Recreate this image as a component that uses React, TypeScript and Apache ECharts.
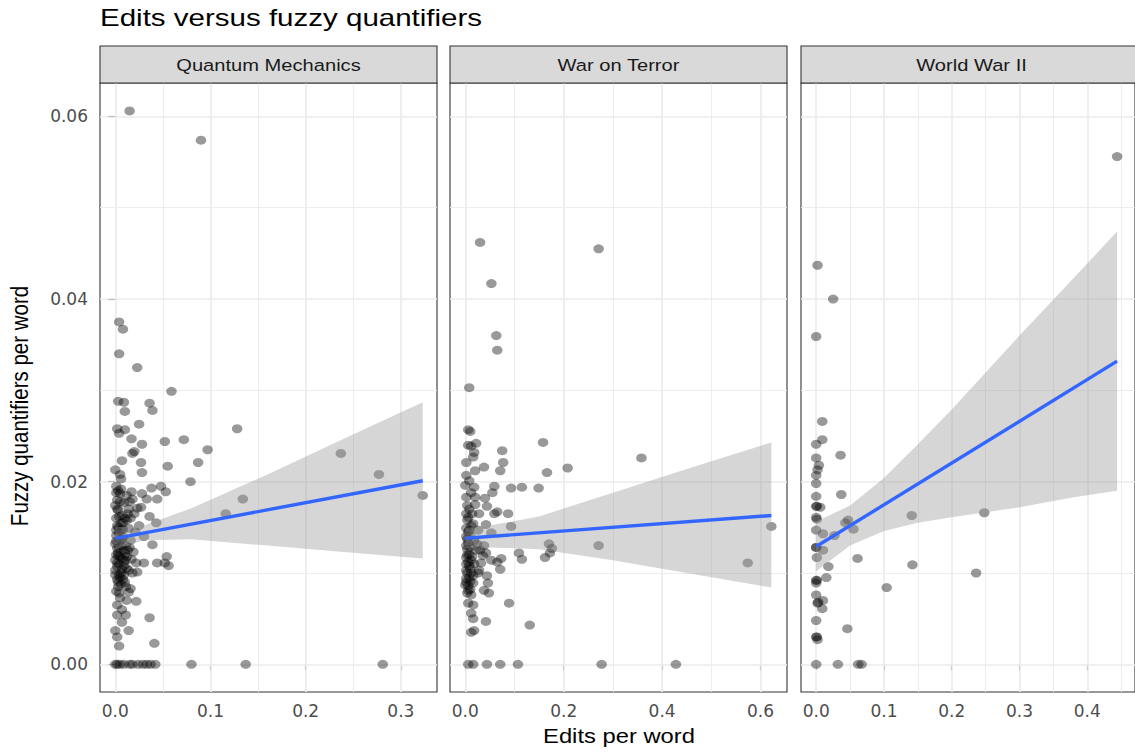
import React, { useEffect, useRef } from "react";
import * as echarts from "echarts";

const chartTitle = "Edits versus fuzzy quantifiers";
const xTitle = "Edits per word";
const yTitle = "Fuzzy quantifiers per word";
const panelNames = ["Quantum Mechanics", "War on Terror", "World War II"];

const yTicks = [0, 0.02, 0.04, 0.06];
const yMinor = [0.01, 0.03, 0.05];
const yRange = [-0.00303, 0.06366];

const qmXTicks = [0, 0.1, 0.2, 0.3];
const qmXMinor = [0.05, 0.15, 0.25];
const wotXTicks = [0, 0.2, 0.4, 0.6];
const wotXMinor = [0.1, 0.3, 0.5];
const wwXTicks = [0, 0.1, 0.2, 0.3, 0.4];
const wwXMinor = [0.05, 0.15, 0.25, 0.35, 0.45];
const xRanges = [[-0.0161, 0.338], [-0.0311, 0.6538], [-0.0224, 0.4704]];

const qmPoints = [
  [0.015,0.0606],[0.090,0.0574],[0.004,0.0375],[0.008,0.0367],[0.004,0.0340],[0.023,0.0325],[0.059,0.0299],
  [0.003,0.0288],[0.009,0.0287],[0.010,0.0277],[0.036,0.0286],[0.039,0.0278],[0.025,0.0263],[0.002,0.0258],
  [0.010,0.0257],[0.004,0.0253],[0.017,0.0247],[0.052,0.0244],[0.072,0.0246],[0.128,0.0258],[0.097,0.0235],
  [0.028,0.0241],[0.020,0.0233],[0.018,0.0231],[0.007,0.0223],[0.027,0.0221],[0.055,0.0217],[0.087,0.0221],
  [0.028,0.0210],[0.000,0.0213],[0.005,0.0208],[0.006,0.0203],[0.079,0.0200],[0.048,0.0195],[0.053,0.0189],
  [0.038,0.0193],[0.017,0.0189],[0.018,0.0181],[0.028,0.0187],[0.033,0.0181],[0.044,0.0181],[0.001,0.0188],
  [0.005,0.0187],[0.134,0.0181],[0.116,0.0165],[0.036,0.0162],[0.043,0.0155],[0.023,0.0171],[0.027,0.0172],
  [0.237,0.0231],[0.277,0.0208],[0.323,0.0185],
  [0.000,0.0174],[0.003,0.0169],[0.007,0.0163],[0.012,0.0158],[0.002,0.0152],[0.006,0.0147],[0.014,0.0149],
  [0.001,0.0141],[0.005,0.0136],[0.011,0.0130],[0.002,0.0127],[0.016,0.0136],[0.019,0.0123],[0.003,0.0119],
  [0.007,0.0116],[0.000,0.0114],[0.009,0.0177],[0.014,0.0170],[0.001,0.0160],[0.004,0.0144],[0.008,0.0140],
  [0.013,0.0125],[0.021,0.0145],[0.025,0.0152],[0.030,0.0140],[0.000,0.0132],[0.010,0.0121],[0.004,0.0110],
  [0.012,0.0105],[0.000,0.0098],[0.008,0.0093],[0.003,0.0085],
  [0.039,0.0131],[0.054,0.0118],[0.056,0.0108],[0.044,0.0111],[0.052,0.0111],[0.030,0.0111],[0.022,0.0111],
  [0.002,0.0111],[0.011,0.0114],[0.000,0.0103],[0.005,0.0095],[0.003,0.0090],[0.014,0.0103],[0.018,0.0100],
  [0.023,0.0101],[0.016,0.0083],[0.014,0.0079],[0.022,0.0069],[0.012,0.0070],[0.005,0.0073],[0.002,0.0065],
  [0.036,0.0051],[0.002,0.0054],[0.007,0.0046],[0.011,0.0054],[0.014,0.0037],[0.000,0.0037],[0.002,0.0030],
  [0.004,0.0020],[0.041,0.0023],
  [0.001,0.0195],[0.006,0.0192],[0.012,0.0185],[0.015,0.0178],[0.020,0.0165],[0.002,0.0180],[0.008,0.0155],
  [0.004,0.0128],[0.009,0.0108],[0.017,0.0115],[0.001,0.0120],[0.006,0.0100],[0.010,0.0090],[0.001,0.0080],
  [0.007,0.0060],
  [0.002,0.0170],[0.004,0.0162],[0.006,0.0155],[0.003,0.0150],[0.008,0.0148],[0.010,0.0160],[0.001,0.0135],
  [0.006,0.0130],[0.009,0.0125],[0.003,0.0122],[0.005,0.0118],[0.012,0.0118],[0.002,0.0107],[0.007,0.0104],
  [0.004,0.0098],[0.009,0.0098],[0.002,0.0093],[0.006,0.0088],[0.011,0.0085],[0.004,0.0078],[0.013,0.0165],
  [0.016,0.0160],[0.005,0.0178],[0.003,0.0190],[0.009,0.0113],[0.015,0.0128],[0.001,0.0147],[0.007,0.0137],
  [0.000,0],[0.002,0],[0.005,0],[0.009,0],[0.015,0],[0.018,0],[0.024,0],[0.029,0],[0.033,0],[0.037,0],
  [0.042,0],[0.080,0],[0.137,0],[0.281,0],
];

const wotPoints = [
  [0.030,0.0462],[0.053,0.0417],[0.063,0.0360],[0.065,0.0344],[0.271,0.0455],[0.008,0.0303],
  [0.006,0.0257],[0.010,0.0255],[0.022,0.0242],[0.006,0.0240],[0.012,0.0239],[0.018,0.0232],[0.016,0.0227],
  [0.002,0.0221],[0.020,0.0212],[0.038,0.0216],[0.075,0.0234],[0.077,0.0221],[0.071,0.0212],[0.158,0.0243],
  [0.166,0.0210],[0.208,0.0215],[0.002,0.0207],[0.008,0.0201],[0.018,0.0194],[0.059,0.0195],[0.055,0.0188],
  [0.093,0.0193],[0.115,0.0194],[0.149,0.0193],[0.002,0.0183],[0.020,0.0183],[0.040,0.0182],[0.044,0.0173],
  [0.020,0.0175],[0.002,0.0165],[0.006,0.0161],[0.028,0.0165],[0.016,0.0154],[0.065,0.0167],[0.059,0.0165],
  [0.087,0.0165],[0.093,0.0151],[0.042,0.0153],[0.002,0.0149],[0.008,0.0147],[0.026,0.0147],[0.053,0.0144],
  [0.170,0.0132],[0.176,0.0127],[0.162,0.0117],[0.172,0.0122],[0.271,0.0130],[0.109,0.0122],[0.115,0.0115],
  [0.073,0.0116],[0.065,0.0112],[0.071,0.0104],
  [0.002,0.0130],[0.022,0.0125],[0.042,0.0122],[0.012,0.0114],[0.032,0.0111],[0.053,0.0114],[0.002,0.0103],
  [0.016,0.0097],[0.028,0.0103],[0.044,0.0097],
  [0.012,0.0100],[0.026,0.0100],[0.002,0.0094],[0.016,0.0089],[0.006,0.0081],[0.012,0.0076],[0.046,0.0089],
  [0.048,0.0078],[0.038,0.0081],[0.006,0.0067],[0.016,0.0065],[0.089,0.0067],[0.012,0.0056],[0.016,0.0050],
  [0.042,0.0047],[0.131,0.0043],[0.012,0.0035],[0.018,0.0037],
  [0.358,0.0226],[0.622,0.0151],[0.574,0.0111],[0.036,0.0119],[0.038,0.0130],
  [0.004,0.0137],[0.010,0.0141],[0.018,0.0135],[0.004,0.0120],[0.008,0.0108],[0.000,0.0087],[0.010,0.0091],
  [0.004,0.0174],[0.012,0.0188],[0.000,0.0196],[0.024,0.0132],[0.030,0.0125],
  [0.002,0.0140],[0.006,0.0133],[0.010,0.0128],[0.004,0.0126],[0.008,0.0120],[0.002,0.0117],[0.006,0.0112],
  [0.010,0.0105],[0.002,0.0110],[0.004,0.0100],[0.008,0.0095],[0.002,0.0090],[0.006,0.0086],[0.010,0.0082],
  [0.004,0.0078],[0.014,0.0118],[0.018,0.0110],[0.006,0.0145],[0.012,0.0152],[0.004,0.0158],[0.008,0.0170],
  [0.014,0.0165],
  [0.006,0],[0.016,0],[0.044,0],[0.071,0],[0.107,0],[0.277,0],[0.428,0],
];

const wwPoints = [
  [0.002,0.0437],[0.025,0.0400],[0.000,0.0359],[0.009,0.0266],[0.009,0.0246],[0.000,0.0241],[0.036,0.0229],
  [0.000,0.0226],[0.004,0.0218],[0.002,0.0213],[0.000,0.0207],[0.000,0.0198],[0.037,0.0186],[0.000,0.0184],
  [0.000,0.0173],[0.006,0.0172],[0.001,0.0173],[0.000,0.0161],[0.001,0.0159],[0.000,0.0147],[0.010,0.0143],
  [0.027,0.0141],[0.047,0.0158],[0.043,0.0155],[0.055,0.0148],[0.141,0.0163],[0.000,0.0128],[0.000,0.0128],
  [0.010,0.0125],[0.001,0.0117],[0.061,0.0116],[0.018,0.0107],[0.142,0.0109],[0.015,0.0095],[0.000,0.0092],
  [0.001,0.0092],[0.000,0.0089],[0.104,0.0084],[0.000,0.0076],[0.010,0.0070],[0.002,0.0067],[0.003,0.0068],
  [0.009,0.0061],[0.000,0.0048],[0.046,0.0039],[0.000,0.0030],[0.001,0.0030],[0.002,0.0027],
  [0.000,0],[0.032,0],[0.062,0],[0.067,0],
  [0.444,0.0556],[0.248,0.0166],[0.236,0.0100],
];

// fitted lines (endpoints) and confidence bands
const qmLine = [[0, 0.0138], [0.323, 0.0201]];
const qmBandX = [0, 0.03, 0.08, 0.16, 0.24, 0.323];
const qmBandLo = [0.0126, 0.0136, 0.0137, 0.0130, 0.0123, 0.0116];
const qmBandHi = [0.0150, 0.0152, 0.0171, 0.0208, 0.0247, 0.0287];

const wotLine = [[0, 0.0138], [0.622, 0.0163]];
const wotBandX = [0, 0.05, 0.15, 0.3, 0.45, 0.622];
const wotBandLo = [0.0127, 0.0128, 0.0126, 0.0114, 0.0100, 0.0084];
const wotBandHi = [0.0149, 0.0152, 0.0162, 0.0188, 0.0214, 0.0243];

const wwLine = [[0, 0.0129], [0.444, 0.0332]];
const wwBandX = [0, 0.05, 0.1, 0.15, 0.2, 0.3, 0.38, 0.444];
const wwBandLo = [0.0102, 0.0130, 0.0146, 0.0155, 0.0161, 0.0172, 0.0183, 0.0190];
const wwBandHi = [0.0156, 0.0174, 0.0204, 0.0241, 0.0279, 0.0360, 0.0423, 0.0474];

const panels = [
  { points: qmPoints, line: qmLine, bx: qmBandX, lo: qmBandLo, hi: qmBandHi, xt: qmXTicks, xm: qmXMinor },
  { points: wotPoints, line: wotLine, bx: wotBandX, lo: wotBandLo, hi: wotBandHi, xt: wotXTicks, xm: wotXMinor },
  { points: wwPoints, line: wwLine, bx: wwBandX, lo: wwBandLo, hi: wwBandHi, xt: wwXTicks, xm: wwXMinor },
];

const LEFTS = [100, 450, 801];
const WIDTHS = [337, 337, 341];
const TOP = 83;
const HEIGHT = 609;
const STRIP_TOP = 46;

export default function App() {
  const ref = useRef<HTMLDivElement>(null);
  useEffect(() => {
    if (!ref.current) return;
    const chart = echarts.init(ref.current, null, { renderer: "svg" });

    const grids = panels.map((_, i) => ({
      left: LEFTS[i], top: TOP, width: WIDTHS[i], height: HEIGHT,
      show: true, backgroundColor: "#FFFFFF", borderColor: "#333333", borderWidth: 1.1,
      containLabel: false,
    }));

    const xAxes = panels.map((p, i) => ({
      type: "value", gridIndex: i, min: xRanges[i][0], max: xRanges[i][1],
      axisLine: { show: false },
      axisTick: { show: true, length: 6, lineStyle: { color: "#333333", width: 1.1 }, customValues: p.xt },
      axisLabel: {
        show: true, customValues: p.xt, margin: 10, color: "#4D4D4D", fontSize: 17,
        fontFamily: "DejaVu Sans", formatter: (v: number) => v.toFixed(1),
      },
      splitLine: { show: false },
    }));

    const yAxes = panels.map((_, i) => ({
      type: "value", gridIndex: i, min: yRange[0], max: yRange[1],
      axisLine: { show: false },
      axisTick: { show: i === 0, length: 7, lineStyle: { color: "#333333", width: 1.1 }, customValues: yTicks },
      axisLabel: {
        show: i === 0, customValues: yTicks, margin: 12, color: "#4D4D4D", fontSize: 17,
        fontFamily: "DejaVu Sans", formatter: (v: number) => v.toFixed(2),
      },
      splitLine: { show: false },
    }));

    const series: any[] = [];
    panels.forEach((p, i) => {
      const major = { color: "#EBEBEB", width: 1.7, type: "solid" };
      const minor = { color: "#EBEBEB", width: 0.9, type: "solid" };
      series.push({
        type: "line", xAxisIndex: i, yAxisIndex: i, data: [], z: 1, silent: true,
        markLine: {
          silent: true, z: 1, animation: false, symbol: ["none", "none"], label: { show: false },
          emphasis: { disabled: true },
          data: [
            ...p.xm.map((v) => ({ xAxis: v, lineStyle: minor })),
            ...yMinor.map((v) => ({ yAxis: v, lineStyle: minor })),
            ...p.xt.map((v) => ({ xAxis: v, lineStyle: major })),
            ...yTicks.map((v) => ({ yAxis: v, lineStyle: major })),
          ],
        },
      });
      series.push({
        type: "scatter", xAxisIndex: i, yAxisIndex: i, z: 2, silent: true,
        symbol: "circle", symbolSize: [10.5, 9],
        itemStyle: { color: "rgba(0,0,0,0.5)" },
        data: p.points,
      });
      series.push({
        type: "custom", xAxisIndex: i, yAxisIndex: i, z: 3, silent: true,
        data: p.bx.map((x, k) => [x, p.lo[k], p.hi[k]]),
        encode: { x: 0, y: [1, 2] },
        renderItem: (params: any, api: any) => {
          if (params.dataIndex !== 0) return null;
          const pts: number[][] = [];
          for (let k = 0; k < p.bx.length; k++) pts.push(api.coord([p.bx[k], p.hi[k]]));
          for (let k = p.bx.length - 1; k >= 0; k--) pts.push(api.coord([p.bx[k], p.lo[k]]));
          return { type: "polygon", shape: { points: pts }, style: { fill: "rgba(153,153,153,0.4)" } };
        },
      });
      series.push({
        type: "line", xAxisIndex: i, yAxisIndex: i, z: 4, silent: true,
        symbol: "none", data: p.line,
        lineStyle: { color: "#3366FF", width: 3.4 },
      });
    });

    const graphic: any[] = [
      {
        type: "text", x: 100, y: 18, scaleX: 1.23, z: 10,
        style: {
          text: chartTitle, fontSize: 24, fontFamily: "Liberation Sans", fill: "#000000",
          align: "left", textAlign: "left", verticalAlign: "middle", textVerticalAlign: "middle",
        },
      },
      {
        type: "text", x: 619, y: 736, scaleX: 1.16, z: 10,
        style: {
          text: xTitle, fontSize: 20.5, fontFamily: "Liberation Sans", fill: "#000000",
          align: "center", textAlign: "center", verticalAlign: "middle", textVerticalAlign: "middle",
        },
      },
      {
        type: "text", x: 20, y: 406, rotation: Math.PI / 2, scaleY: 1.15, z: 10,
        style: {
          text: yTitle, fontSize: 20.5, fontFamily: "Liberation Sans", fill: "#000000",
          align: "center", textAlign: "center", verticalAlign: "middle", textVerticalAlign: "middle",
        },
      },
    ];
    panelNames.forEach((name, i) => {
      graphic.push({
        type: "rect", z: 10,
        shape: { x: LEFTS[i], y: STRIP_TOP, width: WIDTHS[i], height: TOP - STRIP_TOP },
        style: { fill: "#D9D9D9", stroke: "#333333", lineWidth: 1.1 },
      });
      graphic.push({
        type: "text", x: LEFTS[i] + WIDTHS[i] / 2, y: 65, scaleX: 1.22, z: 11,
        style: {
          text: name, fontSize: 16.5, fontFamily: "Liberation Sans", fill: "#1A1A1A",
          align: "center", textAlign: "center", verticalAlign: "middle", textVerticalAlign: "middle",
        },
      });
    });

    chart.setOption({
      animation: false,
      backgroundColor: "#FFFFFF",
      grid: grids,
      xAxis: xAxes,
      yAxis: yAxes,
      series,
      graphic,
    });
    return () => chart.dispose();
  }, []);

  return (
    <div
      ref={ref}
      style={{ position: "absolute", left: 0, top: 0, width: 1135, height: 755, background: "#FFFFFF" }}
    />
  );
}
